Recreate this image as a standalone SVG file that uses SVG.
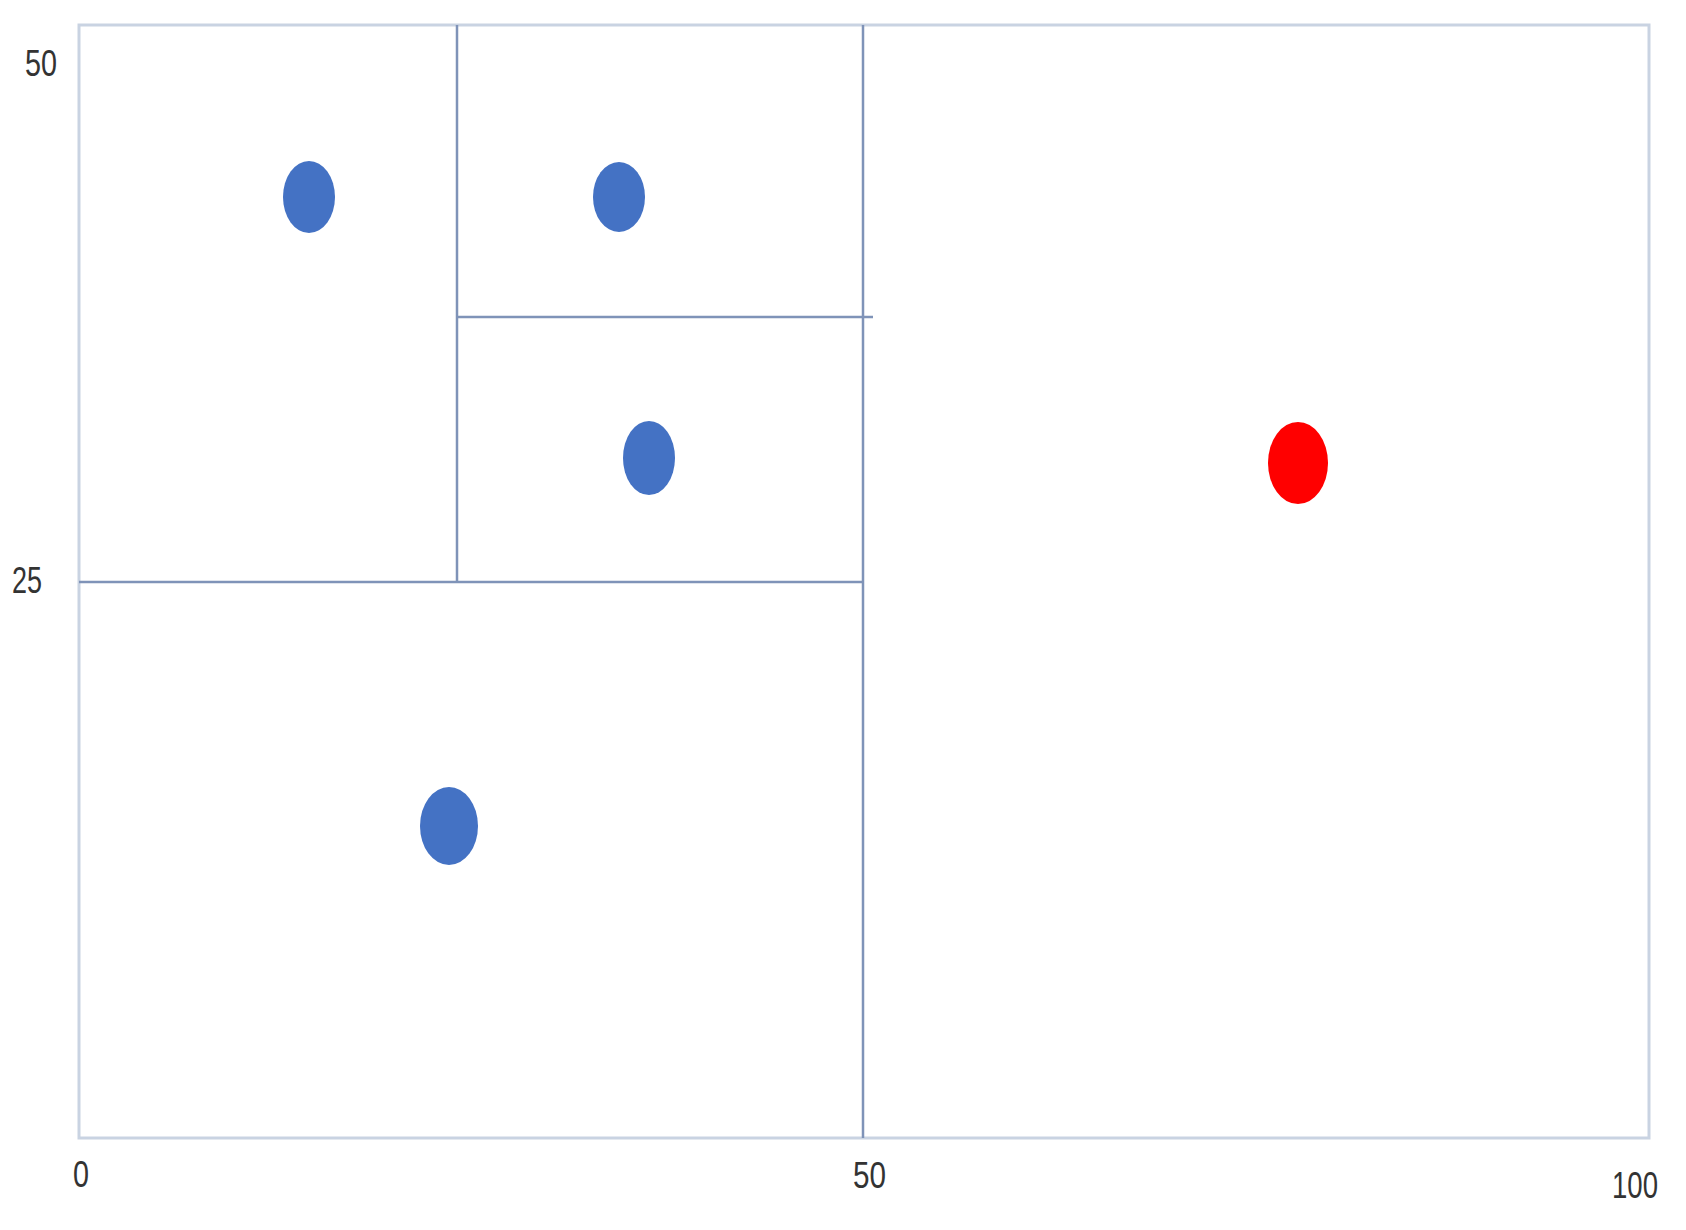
<svg xmlns="http://www.w3.org/2000/svg" width="1686" height="1230" viewBox="0 0 1686 1230">
<style>
.frame{fill:none;stroke:#c9d3e2;stroke-width:3}
.div{stroke:#7f93b8;stroke-width:2.5;fill:none}
.pt{fill:#4472c4}
.q{fill:#ff0000}
.lbl{font-family:"Liberation Sans",Arial,sans-serif;font-size:36px;fill:#333}
</style>
<rect width="1686" height="1230" fill="#ffffff"/>
<g id="frame"><rect class="frame" x="79" y="25" width="1570" height="1113"/></g>
<g id="connectors">
<line class="div" x1="457" y1="25" x2="457" y2="582"/>
<line class="div" x1="863" y1="25" x2="863" y2="1138"/>
<line class="div" x1="457" y1="317" x2="873" y2="317" stroke-width="3"/>
<line class="div" x1="79" y1="582" x2="863" y2="582" stroke-width="3"/>
</g>
<g id="p1"><ellipse class="pt" cx="309" cy="197" rx="26" ry="36"/></g>
<g id="p2"><ellipse class="pt" cx="619" cy="197" rx="26" ry="35"/></g>
<g id="p3"><ellipse class="pt" cx="649" cy="458" rx="26" ry="37"/></g>
<g id="p4"><ellipse class="pt" cx="449" cy="826" rx="29" ry="39"/></g>
<g id="query"><ellipse class="q" cx="1298" cy="463" rx="30" ry="41"/></g>
<g id="labels">
<text class="lbl" x="25" y="76" textLength="32" lengthAdjust="spacingAndGlyphs">50</text>
<text class="lbl" x="12" y="593" textLength="30" lengthAdjust="spacingAndGlyphs">25</text>
<text class="lbl" x="73" y="1187" textLength="16" lengthAdjust="spacingAndGlyphs">0</text>
<text class="lbl" x="853" y="1188" textLength="33" lengthAdjust="spacingAndGlyphs">50</text>
<text class="lbl" x="1612" y="1198" textLength="46" lengthAdjust="spacingAndGlyphs">100</text>
</g>
</svg>
